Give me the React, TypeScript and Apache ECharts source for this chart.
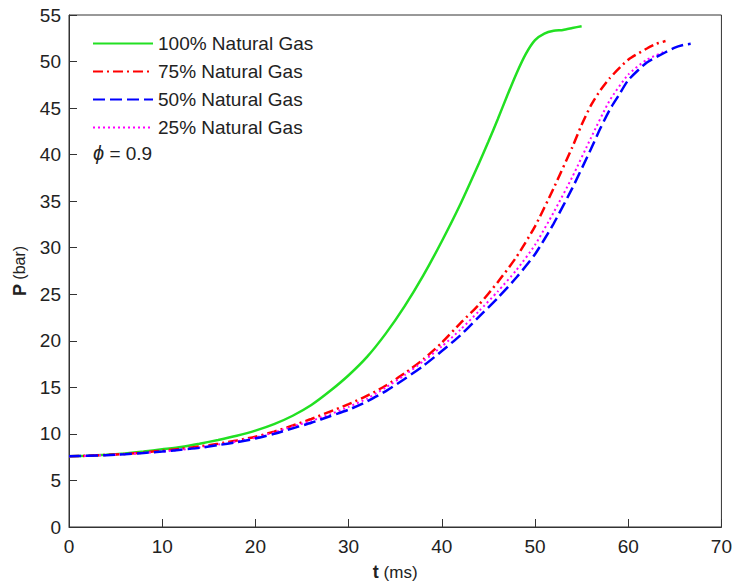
import React, { useEffect, useRef } from "react";
import * as echarts from "echarts";

const seriesNames = ["100% Natural Gas", "75% Natural Gas", "50% Natural Gas", "25% Natural Gas"];

const gasT100 = [0, 2, 4, 6, 8, 10, 12, 14, 16, 18, 20, 22, 24, 26, 28, 30, 32, 34, 36, 38, 40, 42, 44, 45, 46, 47, 48, 49, 50, 51, 52, 53, 54, 55];
const gasP100 = [7.6, 7.65, 7.75, 7.9, 8.1, 8.35, 8.6, 8.95, 9.35, 9.8, 10.35, 11.05, 11.95, 13.1, 14.6, 16.3, 18.3, 20.8, 23.7, 27.0, 30.7, 34.7, 39.1, 41.4, 43.8, 46.3, 48.7, 50.8, 52.3, 53.0, 53.3, 53.4, 53.6, 53.8];

const gasT75 = [0, 2, 4, 6, 8, 10, 12, 14, 16, 18, 20, 22, 24, 26, 28, 30, 32, 34, 36, 38, 40, 42, 44, 46, 48, 50, 52, 54, 55, 56, 57, 58, 60, 62, 63, 64];
const gasP75 = [7.6, 7.65, 7.75, 7.85, 8.0, 8.2, 8.4, 8.65, 8.95, 9.3, 9.7, 10.25, 10.9, 11.6, 12.4, 13.2, 14.1, 15.2, 16.5, 18.0, 19.8, 21.9, 23.9, 26.3, 29.0, 32.3, 36.4, 40.8, 43.2, 45.3, 46.9, 48.2, 50.2, 51.4, 51.9, 52.2];

const gasT50 = [0, 2, 4, 6, 8, 10, 12, 14, 16, 18, 20, 22, 24, 26, 28, 30, 32, 34, 36, 38, 40, 42, 44, 46, 48, 50, 52, 54, 56, 57, 58, 59, 60, 62, 64, 65, 66, 66.7];
const gasP50 = [7.6, 7.65, 7.72, 7.82, 7.95, 8.1, 8.3, 8.5, 8.8, 9.1, 9.5, 10.0, 10.6, 11.2, 11.9, 12.6, 13.5, 14.6, 15.9, 17.3, 18.9, 20.6, 22.6, 24.6, 26.8, 29.3, 32.6, 36.4, 40.6, 42.8, 44.8, 46.4, 48.0, 49.9, 51.0, 51.5, 51.8, 51.9];

const gasT25 = [0, 2, 4, 6, 8, 10, 12, 14, 16, 18, 20, 22, 24, 26, 28, 30, 32, 34, 36, 38, 40, 42, 44, 46, 48, 50, 52, 54, 56, 58, 60, 62, 64];
const gasP25 = [7.6, 7.65, 7.72, 7.82, 7.95, 8.1, 8.3, 8.55, 8.85, 9.2, 9.6, 10.15, 10.8, 11.4, 12.1, 12.9, 13.8, 15.0, 16.3, 17.8, 19.4, 21.2, 23.2, 25.3, 27.6, 30.3, 33.8, 37.6, 41.8, 45.8, 48.6, 50.2, 51.1];

const xTicks = [0, 10, 20, 30, 40, 50, 60, 70];
const yTicks = [0, 5, 10, 15, 20, 25, 30, 35, 40, 45, 50, 55];

const pair = (t: number[], p: number[]) => t.map((v, i) => [v, p[i]]);

const FONT = "'Liberation Sans', Arial, Helvetica, sans-serif";

export default function App() {
  const ref = useRef<HTMLDivElement>(null);
  useEffect(() => {
    if (!ref.current) return;
    const chart = echarts.init(ref.current, null, { renderer: "svg" });
    const mk = (name: string, data: number[][], color: string, type: any, width: number, z: number) => ({
      name,
      type: "line",
      data,
      symbol: "none",
      showSymbol: false,
      smooth: 0.2,
      z,
      lineStyle: { color, type, width },
      itemStyle: { color },
    });
    chart.setOption({
      animation: false,
      backgroundColor: "#ffffff",
      textStyle: { fontFamily: FONT },
      grid: {
        left: 69,
        right: 11,
        top: 15,
        bottom: 55,
        show: true,
        borderColor: "#333333",
        borderWidth: 1,
        backgroundColor: "transparent",
      },
      legend: {
        orient: "vertical",
        left: 87,
        top: 29,
        itemWidth: 60,
        itemHeight: 18,
        itemGap: 9,
        data: seriesNames,
        itemStyle: { opacity: 0 },
        textStyle: { fontFamily: FONT, fontSize: 19, color: "#222222" },
      },
      xAxis: {
        type: "value",
        min: 0,
        max: 70,
        interval: 10,
        name: "{b|t} (ms)",
        nameLocation: "middle",
        nameGap: 36,
        nameTextStyle: {
          fontFamily: FONT,
          fontSize: 17,
          color: "#222222",
          rich: { b: { fontFamily: FONT, fontSize: 18, fontWeight: "bold", color: "#222222" } },
        },
        axisLine: { lineStyle: { color: "#333333", width: 1 } },
        axisTick: { inside: true, length: 8, lineStyle: { color: "#333333" } },
        axisLabel: {
          margin: 10,
          fontFamily: FONT,
          fontSize: 19,
          color: "#222222",
          formatter: (v: number) => (xTicks.includes(v) ? String(v) : ""),
        },
        splitLine: { show: false },
      },
      yAxis: {
        type: "value",
        min: 0,
        max: 55,
        interval: 5,
        name: "{b|P} (bar)",
        nameLocation: "middle",
        nameGap: 40,
        nameTextStyle: {
          fontFamily: FONT,
          fontSize: 16,
          color: "#222222",
          rich: { b: { fontFamily: FONT, fontSize: 18, fontWeight: "bold", color: "#222222" } },
        },
        axisLine: { show: true, lineStyle: { color: "#333333", width: 1 } },
        axisTick: { show: true, inside: true, length: 8, lineStyle: { color: "#333333" } },
        axisLabel: {
          margin: 8,
          fontFamily: FONT,
          fontSize: 19,
          color: "#222222",
          formatter: (v: number) => (yTicks.includes(v) ? String(v) : ""),
        },
        splitLine: { show: false },
      },
      graphic: [
        {
          type: "text",
          left: 93,
          top: 143,
          style: {
            text: "{i|ϕ} = 0.9",
            font: `19px ${FONT}`,
            fill: "#222222",
            rich: {
              i: { fontFamily: FONT, fontSize: 20, fontStyle: "italic", fill: "#222222" },
            },
          },
        },
      ],
      series: [
        mk(seriesNames[0], pair(gasT100, gasP100), "#22e022", "solid", 2.5, 2),
        mk(seriesNames[1], pair(gasT75, gasP75), "#ff0000", [10, 4, 2, 4], 2.5, 3),
        mk(seriesNames[3], pair(gasT25, gasP25), "#ff00ff", [2, 3], 2, 4),
        mk(seriesNames[2], pair(gasT50, gasP50), "#0000ff", [12, 5], 2.5, 5),
      ],
    });
    return () => chart.dispose();
  }, []);
  return (
    <div style={{ position: "fixed", left: 0, top: 0, width: 735, height: 586, background: "#fff" }}>
      <div ref={ref} style={{ width: 735, height: 586 }} />
    </div>
  );
}
